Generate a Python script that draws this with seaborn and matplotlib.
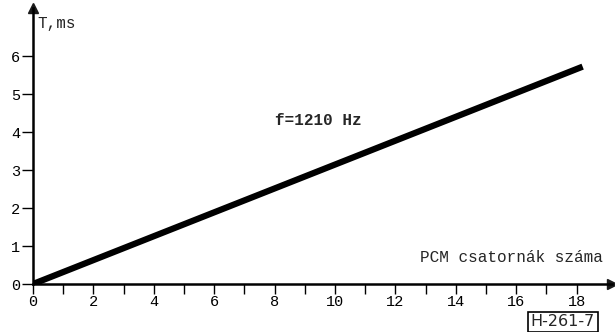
import matplotlib
matplotlib.use("Agg")
import matplotlib.pyplot as plt
import seaborn as sns
import pandas as pd

channels = [0, 18.2]
delay_ms = [0, 5.72]
x_major = [0, 2, 4, 6, 8, 10, 12, 14, 16, 18]
x_minor = [1, 3, 5, 7, 9, 11, 13, 15, 17]
y_major = [0, 1, 2, 3, 4, 5, 6]

sns.set_theme(style="white")
plt.rcParams["font.family"] = ["Liberation Mono", "DejaVu Sans Mono"]

fig = plt.figure(figsize=(6.15, 3.32), dpi=100)
ax = fig.add_axes([33/615, 48/332, 579/615, 276/332])

df = pd.DataFrame({"n": channels, "T": delay_ms})
sns.lineplot(data=df, x="n", y="T", ax=ax, color="black", linewidth=4.5,
             solid_capstyle="butt")

ax.set_xlim(0, 579/30.2)
ax.set_ylim(0, 276/38.0)
for s in ["top", "right"]:
    ax.spines[s].set_visible(False)
for s in ["left", "bottom"]:
    ax.spines[s].set_linewidth(1.8)
    ax.spines[s].set_color("black")

ax.set_xticks(x_major)
ax.set_xticks(x_minor, minor=True)
ax.set_yticks(y_major)
ax.tick_params(axis="x", which="both", direction="out", length=7, width=1.0,
               colors="black", labelsize=11, pad=1, bottom=True)
ax.tick_params(axis="y", which="both", direction="out", length=8, width=1.0,
               colors="black", labelsize=11, pad=1, left=True)
ax.set_xlabel("")
ax.set_ylabel("")

# axis arrows
ax.plot(1, 0, ">k", markersize=7, transform=ax.transAxes, clip_on=False)
ax.plot(0, 1, "^k", markersize=7, transform=ax.transAxes, clip_on=False)

ax.text(0.008, 0.945, "T,ms", transform=ax.transAxes, fontsize=11.5,
        ha="left", va="center")
ax.text(0.985, 0.095, "PCM csatornák száma", transform=ax.transAxes,
        fontsize=11.5, ha="right", va="center")
ax.text(8.0, 4.3, "f=1210 Hz", fontsize=11.5, ha="left", va="center",
        fontweight="semibold")

fig.text(563/615, 10/332, "H-261-7", fontsize=11.5, ha="center", va="center",
         family=["DejaVu Sans"],
         bbox=dict(boxstyle="square,pad=0.15", fc="white", ec="black", lw=1.2))

fig.savefig("out.png", dpi=100)
